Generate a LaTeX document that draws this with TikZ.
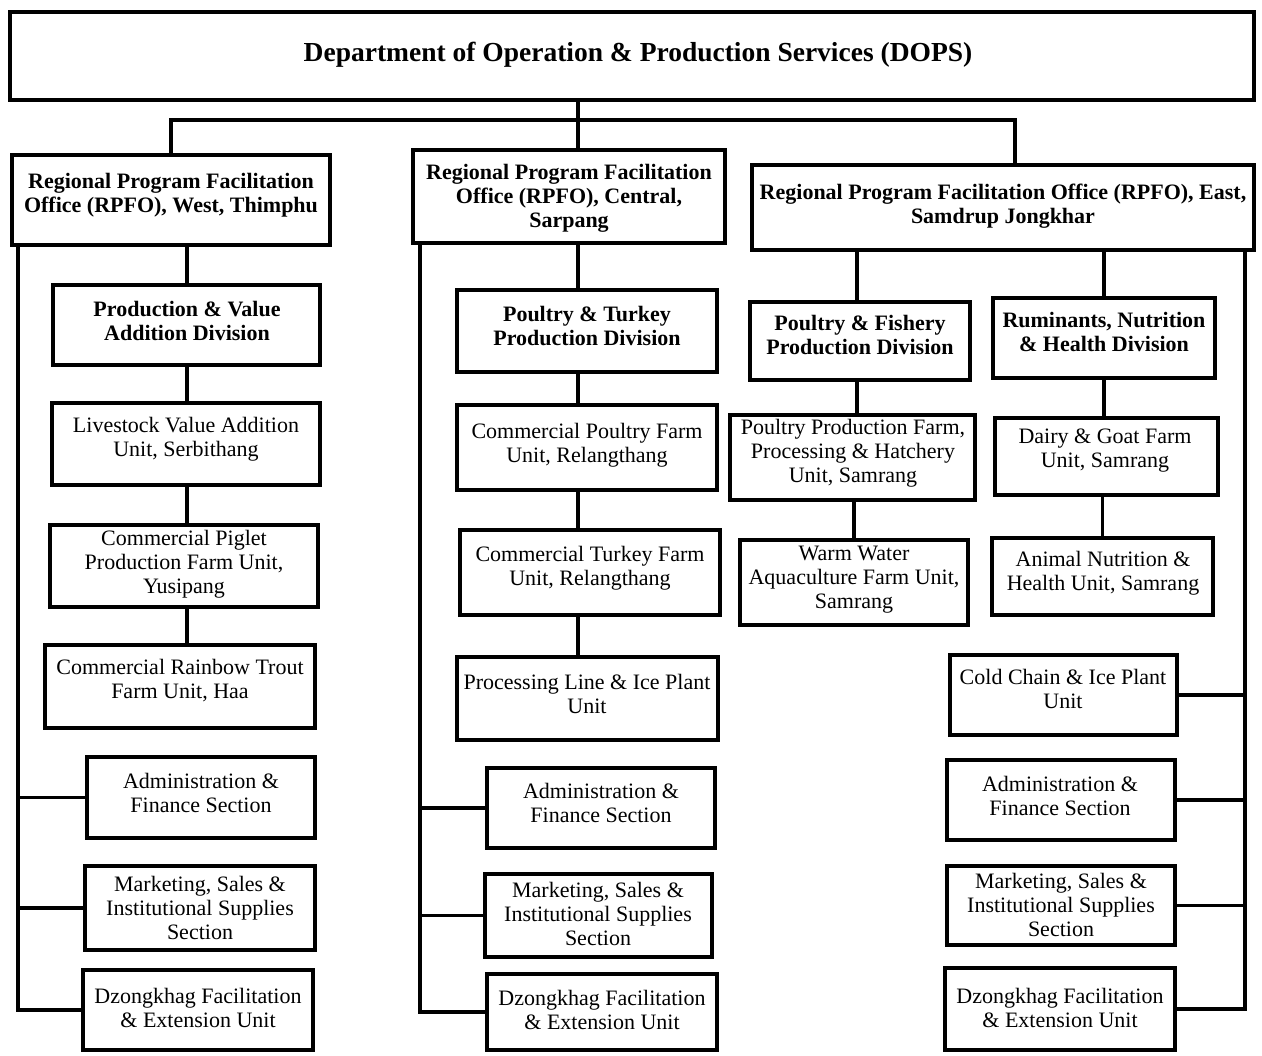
\documentclass[tikz,border=0pt]{standalone}
\usepackage{fontspec}
\setmainfont{Liberation Serif}
\usetikzlibrary{shadows}
\newcommand\orgbox[5]{%
  \node[box, minimum width={(#4-#2)*1pt}, minimum height={(#5-#3)*1pt}] (#1) at ({(#2+#4)/2},{(#3+#5)/2}) {};}
\tikzset{
  box/.style={draw, line width=3.4pt, fill=white, inner sep=0pt,
    drop shadow={fill=black!30, shadow xshift=1.5pt, shadow yshift=-2pt, opacity=0.6}},
  ut/.style={align=center, inner sep=0pt, font=\fontsize{22}{24}\selectfont},
  bt/.style={align=center, inner sep=0pt, font=\fontsize{22}{24}\selectfont\bfseries},
  conn/.style={line width=3.6pt, line cap=rect},
}
\begin{document}
\begin{tikzpicture}[x=1pt,y=-1pt]
\useasboundingbox[fill=white] (0,0) rectangle (1262,1056);
% top
\orgbox{top}{10}{12}{1254}{100}
\node[bt, font=\fontsize{27.5}{30}\selectfont\bfseries] (topt) at (638,55) {Department of Operation \& Production Services (DOPS)};
% RPFOs
\orgbox{w0}{12}{155}{330}{245}
\node[bt] (w0t) at (171,195) {Regional Program Facilitation\\Office (RPFO), West, Thimphu};
\orgbox{c0}{413}{150}{725}{243}
\node[bt] (c0t) at (569,198) {Regional Program Facilitation\\Office (RPFO), Central,\\Sarpang};
\orgbox{e0}{752}{165}{1254}{250}
\node[bt] (e0t) at (1003,206) {Regional Program Facilitation Office (RPFO), East,\\Samdrup Jongkhar};
% West
\orgbox{w1}{53}{285}{320}{365}
\node[bt] (w1t) at (187,321) {Production \& Value\\Addition Division};
\orgbox{w2}{52}{403}{320}{485}
\node[ut] (w2t) at (186,439) {Livestock Value Addition\\Unit, Serbithang};
\orgbox{w3}{50}{525}{318}{607}
\node[ut] (w3t) at (184,564) {Commercial Piglet\\Production Farm Unit,\\Yusipang};
\orgbox{w4}{45}{645}{315}{728}
\node[ut] (w4t) at (180,681) {Commercial Rainbow Trout\\Farm Unit, Haa};
\orgbox{w5}{87}{757}{315}{838}
\node[ut] (w5t) at (201,793) {Administration \&\\Finance Section};
\orgbox{w6}{85}{866}{315}{950}
\node[ut] (w6t) at (200,908) {Marketing, Sales \&\\Institutional Supplies\\Section};
\orgbox{w7}{83}{970}{313}{1050}
\node[ut] (w7t) at (198,1008) {Dzongkhag Facilitation\\\& Extension Unit};
% Central
\orgbox{c1}{457}{290}{717}{372}
\node[bt] (c1t) at (587,326) {Poultry \& Turkey\\Production Division};
\orgbox{c2}{457}{405}{717}{490}
\node[ut] (c2t) at (587,445) {Commercial Poultry Farm\\Unit, Relangthang};
\orgbox{c3}{460}{530}{720}{615}
\node[ut] (c3t) at (590,568) {Commercial Turkey Farm\\Unit, Relangthang};
\orgbox{c4}{457}{657}{718}{740}
\node[ut] (c4t) at (587,694) {Processing Line \& Ice Plant\\Unit};
\orgbox{c5}{487}{768}{715}{848}
\node[ut] (c5t) at (601,803) {Administration \&\\Finance Section};
\orgbox{c6}{485}{874}{712}{957}
\node[ut] (c6t) at (598,914) {Marketing, Sales \&\\Institutional Supplies\\Section};
\orgbox{c7}{487}{974}{717}{1050}
\node[ut] (c7t) at (602,1010) {Dzongkhag Facilitation\\\& Extension Unit};
% East
\orgbox{e1}{750}{302}{970}{380}
\node[bt] (e1t) at (860,335) {Poultry \& Fishery\\Production Division};
\orgbox{e2}{993}{298}{1215}{378}
\node[bt] (e2t) at (1104,332) {Ruminants, Nutrition\\\& Health Division};
\orgbox{e3}{730}{415}{975}{500}
\node[ut] (e3t) at (853,453) {Poultry Production Farm,\\Processing \& Hatchery\\Unit, Samrang};
\orgbox{e4}{740}{540}{968}{625}
\node[ut] (e4t) at (854,580) {Warm Water\\Aquaculture Farm Unit,\\Samrang};
\orgbox{e5}{995}{418}{1218}{495}
\node[ut] (e5t) at (1105,451) {Dairy \& Goat Farm\\Unit, Samrang};
\orgbox{e6}{992}{538}{1213}{615}
\node[ut] (e6t) at (1103,573) {Animal Nutrition \&\\Health Unit, Samrang};
\orgbox{e7}{950}{655}{1177}{735}
\node[ut] (e7t) at (1063,689) {Cold Chain \& Ice Plant\\Unit};
\orgbox{e8}{947}{760}{1175}{840}
\node[ut] (e8t) at (1060,796) {Administration \&\\Finance Section};
\orgbox{e9}{947}{866}{1175}{945}
\node[ut] (e9t) at (1061,905) {Marketing, Sales \&\\Institutional Supplies\\Section};
\orgbox{e10}{945}{968}{1175}{1050}
\node[ut] (e10t) at (1060,1008) {Dzongkhag Facilitation\\\& Extension Unit};
% connector helper coordinates
\coordinate (hub) at (578,120);
\coordinate (etop) at (1015,0);
\coordinate (wx) at (187,0);
\coordinate (cx) at (578,0);
\coordinate (ex1) at (857,0);
\coordinate (ex2) at (1104,0);
\coordinate (wbus) at (18,0);
\coordinate (cbus) at (420,0);
\coordinate (ebus) at (1245,0);
% top connectors
\draw[conn] (top.south -| hub) -- (c0.north -| hub);
\draw[conn] (w0.north) |- (hub) -| (e0.north -| etop);
% west column
\draw[conn] (w0.south -| wx) -- (w1.north -| wx);
\draw[conn] (w1.south -| wx) -- (w2.north -| wx);
\draw[conn] (w2.south -| wx) -- (w3.north -| wx);
\draw[conn] (w3.south -| wx) -- (w4.north -| wx);
\draw[conn] (w0.south -| wbus) -- (w7.west -| wbus) -- (w7.west);
\draw[conn] (w5.west -| wbus) -- (w5.west);
\draw[conn] (w6.west -| wbus) -- (w6.west);
% central column
\draw[conn] (c0.south -| cx) -- (c1.north -| cx);
\draw[conn] (c1.south -| cx) -- (c2.north -| cx);
\draw[conn] (c2.south -| cx) -- (c3.north -| cx);
\draw[conn] (c3.south -| cx) -- (c4.north -| cx);
\draw[conn, line width=4.5pt] (c0.south -| cbus) -- (c7.west -| cbus) -- (c7.west);
\draw[conn] (c5.west -| cbus) -- (c5.west);
\draw[conn] (c6.west -| cbus) -- (c6.west);
% east column
\draw[conn] (e0.south -| ex1) -- (e1.north -| ex1);
\draw[conn] (e1.south -| ex1) -- (e3.north -| ex1);
\draw[conn] (e3.south -| e4.north) -- (e4.north);
\draw[conn] (e0.south -| ex2) -- (e2.north -| ex2);
\draw[conn] (e2.south -| ex2) -- (e5.north -| ex2);
\draw[conn] (e5.south -| e6.north) -- (e6.north);
\draw[conn] (e0.south -| ebus) -- (e10.east -| ebus) -- (e10.east);
\draw[conn] (e7.east -| ebus) -- (e7.east);
\draw[conn] (e8.east -| ebus) -- (e8.east);
\draw[conn] (e9.east -| ebus) -- (e9.east);
\end{tikzpicture}
\end{document}
